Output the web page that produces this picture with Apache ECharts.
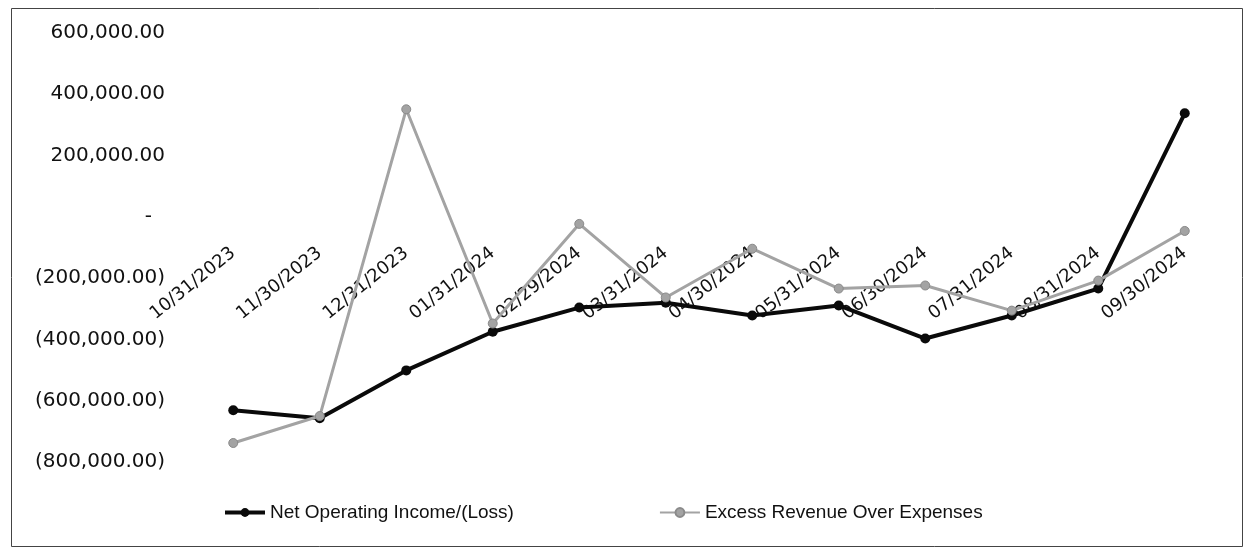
<!DOCTYPE html>
<html>
<head>
<meta charset="utf-8">
<script src="https://cdn.jsdelivr.net/npm/echarts@6/dist/echarts.min.js"></script>
<style>
  html, body { margin: 0; padding: 0; background: #fff; }
  #chart { width: 1253px; height: 550px; }
</style>
</head>
<body>
<div id="chart"></div>
<script>
const categories = ['10/31/2023','11/30/2023','12/31/2023','01/31/2024','02/29/2024','03/31/2024','04/30/2024','05/31/2024','06/30/2024','07/31/2024','08/31/2024','09/30/2024'];
const netOperatingIncome = [-631000, -657000, -501000, -375000, -296000, -280000, -322000, -289000, -397000, -322000, -234000, 338000];
const excessRevenue = [-738000, -650000, 351000, -348000, -23000, -263000, -104000, -234000, -224000, -306000, -208000, -46000];
const yTicks = [-800000, -600000, -400000, -200000, 0, 200000, 400000, 600000];
const seriesNames = ['Net Operating Income/(Loss)', 'Excess Revenue Over Expenses'];

function fmtAcct(v) {
  if (v === 0) return '{z|-}';
  const s = Math.abs(v).toLocaleString('en-US', { minimumFractionDigits: 2, maximumFractionDigits: 2 });
  return v < 0 ? '(' + s + ')' : s;
}

const W = 1253, H = 550;
const gridTop = 33, gridBottom = 88;
const yMin = yTicks[0], yMax = yTicks[yTicks.length - 1];
// move the category axis up to the zero line of the value axis
const plotH = H - gridTop - gridBottom;
const xAxisOffset = -plotH * (0 - yMin) / (yMax - yMin);

const chart = echarts.init(document.getElementById('chart'), null, { renderer: 'canvas' });
chart.setOption({
  animation: false,
  backgroundColor: '#ffffff',
  graphic: [{
    type: 'rect',
    left: 9, top: 6,
    shape: { width: 1231, height: 538 },
    style: { fill: 'none', stroke: '#444', lineWidth: 1 },
    silent: true
  }],
  grid: { left: 190, right: 25, top: gridTop, bottom: gridBottom, containLabel: false, outerBoundsMode: 'none' },
  legend: {
    left: 218, top: 498,
    itemWidth: 40, itemHeight: 11, itemGap: 145,
    textStyle: { fontFamily: 'Liberation Sans', fontSize: 19, color: '#111' },
    data: [
      { name: seriesNames[0], lineStyle: { width: 4, color: '#0a0a0a' }, itemStyle: { color: '#0a0a0a' } },
      { name: seriesNames[1], lineStyle: { width: 2, color: '#a3a3a3' }, itemStyle: { color: '#a3a3a3' } }
    ]
  },
  xAxis: {
    type: 'category',
    data: categories,
    boundaryGap: true,
    offset: xAxisOffset,
    axisLine: { show: false, onZero: false },
    axisTick: { show: false },
    splitLine: { show: false },
    axisLabel: {
      rotate: 39, margin: 34, interval: 0,
      fontFamily: 'DejaVu Sans', fontSize: 18, color: '#111'
    }
  },
  yAxis: {
    type: 'value',
    min: yMin, max: yMax, interval: yTicks[1] - yTicks[0],
    axisLine: { show: false },
    axisTick: { show: false },
    splitLine: { show: false },
    axisLabel: {
      margin: 25,
      fontFamily: 'DejaVu Sans', fontSize: 20, color: '#111',
      formatter: fmtAcct,
      rich: { z: { fontFamily: 'DejaVu Sans', fontSize: 20, color: '#111', padding: [0, 13, 0, 0] } }
    }
  },
  series: [
    {
      name: seriesNames[0], type: 'line', data: netOperatingIncome,
      symbol: 'circle', symbolSize: 10,
      lineStyle: { color: '#0a0a0a', width: 4 },
      itemStyle: { color: '#0a0a0a' },
      z: 2
    },
    {
      name: seriesNames[1], type: 'line', data: excessRevenue,
      symbol: 'circle', symbolSize: 9,
      lineStyle: { color: '#a3a3a3', width: 3 },
      itemStyle: { color: '#a3a3a3', borderColor: '#8a8a8a', borderWidth: 1 },
      z: 3
    }
  ]
});
</script>
</body>
</html>
